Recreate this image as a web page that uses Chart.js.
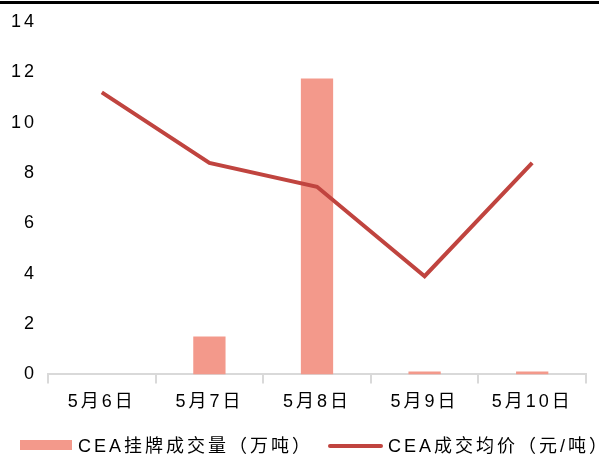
<!DOCTYPE html>
<html>
<head>
<meta charset="utf-8">
<script src="https://cdn.jsdelivr.net/npm/chart.js@4.4.1/dist/chart.umd.min.js"></script>
<style>
  html, body { margin: 0; padding: 0; background: #fff; }
  #wrap { position: relative; width: 599px; height: 459px; overflow: hidden; }
  #topRule { position: absolute; left: 0; top: 1px; width: 599px; height: 3px; background: #000; }
  canvas { position: absolute; left: 0; top: 0; }
  #legend {
    position: absolute; left: 0; top: 434px; width: 599px; height: 24px;
    font: 18px "Liberation Sans", Arial, "Noto Sans CJK SC", sans-serif;
    letter-spacing: 3px; color: #000;
  }
  .item { position: absolute; top: 0; height: 24px; line-height: 24px; white-space: nowrap; }
  .swatch { position: absolute; left: 0; }
  .item span.txt { position: absolute; top: 0; }
</style>
</head>
<body>
<div id="wrap">
  <canvas id="chart" width="599" height="459"></canvas>
  <div id="topRule"></div>
  <div id="legend"></div>
</div>
<script>
// ---------------------------------------------------------
// CEA 挂牌成交量 / 成交均价
// ---------------------------------------------------------
const days = ["5月6日", "5月7日", "5月8日", "5月9日", "5月10日"];
const volume = [0, 1.5, 11.75, 0.12, 0.12];     // 万吨
const avgPrice = [11.2, 8.4, 7.45, 3.9, 8.4];   // 元/吨
const yTicks = [0, 2, 4, 6, 8, 10, 12, 14];

const FONT = '"Liberation Sans", Arial, "Noto Sans CJK SC", sans-serif';
const BAR_COLOR = "#F3998B";
const LINE_COLOR = "#C0443F";
const AXIS_GREY = "#D9D9D9";

// the labels in this style are a bit spaced out
const letterSpacing = {
  id: "letterSpacing",
  beforeUpdate: chart => { chart.ctx.letterSpacing = "3px"; },
  beforeDraw: chart => { chart.ctx.letterSpacing = "3px"; }
};

const chart = new Chart(document.getElementById("chart"), {
  type: "bar",
  data: {
    labels: days,
    datasets: [
      {
        label: "CEA挂牌成交量（万吨）",
        data: volume,
        backgroundColor: BAR_COLOR,
        borderWidth: 0,
        categoryPercentage: 1,
        barPercentage: 0.3,
        order: 2
      },
      {
        type: "line",
        label: "CEA成交均价（元/吨）",
        data: avgPrice,
        borderColor: LINE_COLOR,
        backgroundColor: LINE_COLOR,
        borderWidth: 4,
        tension: 0,
        pointRadius: 0,
        fill: false,
        order: 1
      }
    ]
  },
  options: {
    responsive: false,
    animation: false,
    layout: { padding: { top: 6, right: 13, left: 0, bottom: 38 } },
    plugins: {
      tooltip: { enabled: false },
      legend: { display: false }
    },
    scales: {
      x: {
        grid: {
          offset: true,
          drawOnChartArea: false,
          drawTicks: true,
          tickLength: 9,
          color: AXIS_GREY,
          lineWidth: 2
        },
        border: { display: true, color: AXIS_GREY, width: 2 },
        ticks: {
          color: "#000",
          padding: 8,
          font: { family: FONT, size: 18 }
        }
      },
      y: {
        min: 0,
        max: 14,
        afterBuildTicks: axis => { axis.ticks = yTicks.map(v => ({ value: v })); },
        afterFit: axis => { axis.width = 48; },
        grid: { display: false, drawTicks: false },
        border: { display: false },
        ticks: {
          color: "#000",
          padding: 11,
          font: { family: FONT, size: 18 }
        }
      }
    }
  },
  plugins: [letterSpacing]
});

// ---------------------------------------------------------
// LEGEND (html, below the chart)
// ---------------------------------------------------------
const legendSlots = [
  { left: 20, swatchW: 52, textX: 58 },
  { left: 328, swatchW: 55, textX: 60 }
];

document.getElementById("legend").innerHTML = chart.data.datasets.map((ds, i) => {
  const slot = legendSlots[i];
  const isLine = ds.type === "line";
  const swatch = isLine
    ? `<div class="swatch" style="top:10px;width:${slot.swatchW}px;height:4px;border-radius:2px;background:${ds.borderColor}"></div>`
    : `<div class="swatch" style="top:6px;width:${slot.swatchW}px;height:10px;background:${ds.backgroundColor}"></div>`;
  return `<div class="item" style="left:${slot.left}px">${swatch}<span class="txt" style="left:${slot.textX}px">${ds.label}</span></div>`;
}).join("");
</script>
</body>
</html>
